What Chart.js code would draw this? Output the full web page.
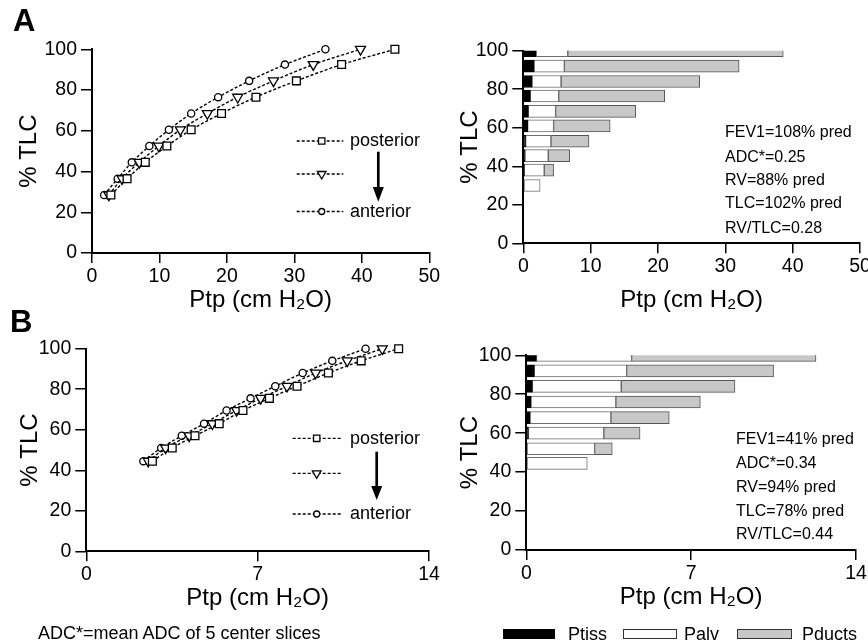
<!DOCTYPE html>
<html><head><meta charset="utf-8">
<script src="https://cdn.jsdelivr.net/npm/chart.js@4.4.0/dist/chart.umd.min.js"></script>
<style>
html,body{margin:0;padding:0;width:868px;height:644px;overflow:hidden;background:#fff;}
canvas{position:absolute;left:0;top:0;}
.t{position:absolute;white-space:nowrap;font-family:"Liberation Sans",Arial,Helvetica,sans-serif;color:#000;}
.box{position:absolute;box-sizing:border-box;}
</style></head><body>
<canvas id="cTL" width="900" height="644"></canvas>
<canvas id="cTR" width="900" height="644"></canvas>
<canvas id="cBL" width="900" height="644"></canvas>
<canvas id="cBR" width="900" height="644"></canvas>

<div class="t" style="left:13px;top:3px;font-size:31px;font-weight:bold;line-height:36px">A</div>
<div class="t" style="left:10px;top:304px;font-size:31px;font-weight:bold;line-height:36px">B</div>

<div class="t" style="left:350px;top:130px;font-size:18px;line-height:20px">posterior</div>
<div class="t" style="left:350px;top:201px;font-size:18px;line-height:20px">anterior</div>
<div class="t" style="left:350px;top:428px;font-size:18px;line-height:20px">posterior</div>
<div class="t" style="left:350px;top:503px;font-size:18px;line-height:20px">anterior</div>

<div class="t" style="left:725px;top:121.7px;font-size:16px;line-height:20px">FEV1=108% pred</div>
<div class="t" style="left:725px;top:146.7px;font-size:16px;line-height:20px">ADC*=0.25</div>
<div class="t" style="left:725px;top:170px;font-size:16px;line-height:20px">RV=88% pred</div>
<div class="t" style="left:725px;top:193.3px;font-size:16px;line-height:20px">TLC=102% pred</div>
<div class="t" style="left:725px;top:218.3px;font-size:16px;line-height:20px">RV/TLC=0.28</div>

<div class="t" style="left:736px;top:429.3px;font-size:16px;line-height:20px">FEV1=41% pred</div>
<div class="t" style="left:736px;top:453.3px;font-size:16px;line-height:20px">ADC*=0.34</div>
<div class="t" style="left:736px;top:476.7px;font-size:16px;line-height:20px">RV=94% pred</div>
<div class="t" style="left:736px;top:500.7px;font-size:16px;line-height:20px">TLC=78% pred</div>
<div class="t" style="left:736px;top:524px;font-size:16px;line-height:20px">RV/TLC=0.44</div>

<div class="t" style="left:38px;top:622.7px;font-size:18px;line-height:20px">ADC*=mean ADC of 5 center slices</div>

<div class="box" style="left:503px;top:629px;width:52px;height:10px;background:#000"></div>
<div class="t" style="left:568px;top:624px;font-size:18px;line-height:20px">Ptiss</div>
<div class="box" style="left:623px;top:629px;width:54px;height:10px;background:#fff;border:1px solid #333"></div>
<div class="t" style="left:684px;top:624px;font-size:18px;line-height:20px">Palv</div>
<div class="box" style="left:737px;top:629px;width:55px;height:10px;background:#c8c8c8;border:1px solid #333"></div>
<div class="t" style="left:802px;top:624px;font-size:18px;line-height:20px">Pducts</div>

<script>
// ---------- DATA ----------
// Panel A, left: %TLC levels and Ptp (cm H2O) per region
const tlcA = [28.5, 36.5, 44.5, 52.5, 60.5, 68.5, 76.5, 84.5, 92.5, 100];
const ptpPosteriorA = [2.8, 5.2, 7.9, 11.1, 14.7, 19.2, 24.3, 30.3, 37.0, 44.9];
const ptpMiddleA = [2.5, 4.45, 7.0, 9.9, 13.1, 17.1, 21.6, 26.9, 32.8, 39.8];
const ptpAnteriorA = [1.8, 3.8, 5.9, 8.5, 11.4, 14.7, 18.7, 23.3, 28.6, 34.6];

// Panel B, left
const tlcB = [44.5, 51, 57, 63, 69.5, 75.5, 81.5, 88, 94, 100];
const ptpPosteriorB = [2.7, 3.51, 4.44, 5.43, 6.4, 7.48, 8.61, 9.89, 11.23, 12.76];
const ptpMiddleB = [2.53, 3.24, 4.2, 5.15, 6.14, 7.12, 8.2, 9.37, 10.66, 12.09];
const ptpAnteriorB = [2.33, 3.06, 3.9, 4.81, 5.73, 6.71, 7.72, 8.84, 10.05, 11.41];

// Panel A, right: stacked components
const barTlcA = [30, 38, 45.5, 53, 61, 68.5, 76.5, 84, 92, 100];
const ptissA = [0, 0.15, 0.25, 0.35, 0.65, 0.75, 1.05, 1.3, 1.6, 1.9];
const palvA = [2.5, 2.95, 3.45, 3.75, 3.85, 4.05, 4.2, 4.3, 4.5, 4.7];
const pductsA = [0, 1.4, 3.2, 5.65, 8.4, 11.9, 15.75, 20.6, 25.95, 32.0];

// Panel B, right
const barTlcB = [44.5, 52, 60, 68, 76, 84, 92, 100];
const ptissB = [0, 0.03, 0.09, 0.16, 0.2, 0.26, 0.34, 0.43];
const palvB = [2.59, 2.87, 3.2, 3.43, 3.6, 3.77, 3.92, 4.04];
const pductsB = [0, 0.75, 1.54, 2.48, 3.59, 4.83, 6.24, 7.83];

const xTicksA = [0, 50, 10];
const xTicksB = [0, 14, 7];
const yTicks = [0, 100, 20];

// ---------- SETUP ----------
const FONT = '"Liberation Sans", Arial, Helvetica, sans-serif';
Chart.defaults.font.family = FONT;
Chart.defaults.color = '#000';
Chart.defaults.animation = false;

const CW = 900, CH = 644;
function frame(L, T, R, B, yTitleX, xTitleOff) {
  const lhT = 24 * 1.2;
  const padLeft = yTitleX - lhT / 2;
  const xBoxBottom = B + xTitleOff + lhT / 2;
  return {
    padding: {left: padLeft, top: T, right: CW - R, bottom: CH - xBoxBottom},
    yW: L - padLeft, xH: xBoxBottom - B
  };
}

function scales(fr, xt, stacked) {
  return {
    x: {
      type: 'linear', min: xt[0], max: xt[1], stacked: stacked,
      ticks: {stepSize: xt[2], color: '#000', font: {size: 19.5}, padding: 2, maxRotation: 0, autoSkip: false},
      grid: {drawOnChartArea: false, drawTicks: true, tickLength: 10, color: '#000', lineWidth: 1.5, offset: false},
      border: {display: true, color: '#000', width: 2},
      title: {display: true, text: 'Ptp (cm H\u2082O)', color: '#000', font: {size: 24}, padding: 0},
      afterFit: s => { s.height = fr.xH; }
    },
    y: {
      type: 'linear', min: yTicks[0], max: yTicks[1], stacked: stacked, offset: false,
      ticks: {stepSize: yTicks[2], color: '#000', font: {size: 19.5}, padding: 4, autoSkip: false},
      grid: {drawOnChartArea: false, drawTicks: true, tickLength: 11, color: '#000', lineWidth: 1.5, offset: false},
      border: {display: true, color: '#000', width: 2},
      title: {display: true, text: '% TLC', color: '#000', font: {size: 24}, padding: 0},
      afterFit: s => { s.width = fr.yW; }
    }
  };
}

function pts(xs, ys) { return xs.map((v, i) => ({x: v, y: ys[i]})); }

function lineDs(xs, ys, style, radius) {
  return {
    data: pts(xs, ys), borderColor: '#000', borderWidth: 1.4, borderDash: [3, 2],
    pointStyle: style, pointRadius: radius, pointRotation: style === 'triangle' ? 180 : 0,
    pointBackgroundColor: '#fff', pointBorderColor: '#000', pointBorderWidth: 1.3,
    cubicInterpolationMode: 'monotone', fill: false, clip: false
  };
}

function legendPlugin(cfg) {
  return {
    id: 'regionLegend',
    afterDraw(chart) {
      const ctx = chart.ctx;
      ctx.save();
      cfg.rows.forEach(r => {
        ctx.strokeStyle = '#000';
        ctx.lineWidth = 1.3;
        ctx.setLineDash([3, 2]);
        ctx.beginPath(); ctx.moveTo(cfg.x1, r.y); ctx.lineTo(cfg.x2, r.y); ctx.stroke();
        ctx.setLineDash([]);
        ctx.fillStyle = '#fff';
        ctx.strokeStyle = '#000';
        Chart.helpers.drawPoint(ctx, {pointStyle: r.style, radius: r.radius,
          rotation: r.style === 'triangle' ? 180 : 0, borderWidth: 1.3}, cfg.xm, r.y);
      });
      const a = cfg.arrow;
      ctx.strokeStyle = '#000'; ctx.fillStyle = '#000';
      ctx.lineWidth = 2.7;
      ctx.beginPath(); ctx.moveTo(a.x, a.y1); ctx.lineTo(a.x, a.yh + 1); ctx.stroke();
      ctx.beginPath(); ctx.moveTo(a.x - 5.5, a.yh); ctx.lineTo(a.x + 5.5, a.yh); ctx.lineTo(a.x, a.y2); ctx.closePath(); ctx.fill();
      ctx.restore();
    }
  };
}

function lineChart(id, fr, xt, tlc, post, mid, ant, leg) {
  new Chart(document.getElementById(id), {
    type: 'line',
    data: {datasets: [
      lineDs(post, tlc, 'rect', 5.5),
      lineDs(mid, tlc, 'triangle', 5.8),
      lineDs(ant, tlc, 'circle', 3.6)
    ]},
    options: {
      responsive: false, animation: false,
      layout: {padding: fr.padding},
      plugins: {legend: {display: false}, tooltip: {enabled: false}},
      scales: scales(fr, xt, false)
    },
    plugins: [legendPlugin(leg)]
  });
}

function barChart(id, fr, xt, tlc, tiss, alv, ducts) {
  const mk = (vals, bg, bc) => ({
    data: pts(vals, tlc), backgroundColor: bg, borderColor: bc, borderWidth: 1,
    borderSkipped: false, barThickness: 12, clip: {left: 4, top: 0, right: 10, bottom: 0}
  });
  new Chart(document.getElementById(id), {
    type: 'bar',
    data: {datasets: [
      mk(tiss, '#000', '#000'),
      mk(alv, '#fff', '#6e6e6e'),
      mk(ducts, '#c8c8c8', '#555')
    ]},
    options: {
      indexAxis: 'y', responsive: false, animation: false,
      layout: {padding: fr.padding},
      plugins: {legend: {display: false}, tooltip: {enabled: false}},
      scales: scales(fr, xt, true)
    }
  });
}

const frTL = frame(92, 49.3, 429.3, 253, 29, 47);
const frBL = frame(86.3, 348.7, 429, 551.3, 30, 47);
const frTR = frame(523.3, 50.7, 860, 243.3, 470, 57);
const frBR = frame(526.3, 355.3, 856, 550, 470.7, 47);

lineChart('cTL', frTL, xTicksA, tlcA, ptpPosteriorA, ptpMiddleA, ptpAnteriorA, {
  x1: 296.7, x2: 343.3, xm: 321.7,
  rows: [{y: 141, style: 'rect', radius: 4.5}, {y: 174, style: 'triangle', radius: 5}, {y: 211.5, style: 'circle', radius: 3}],
  arrow: {x: 378.3, y1: 151.7, yh: 187, y2: 201.7}
});
lineChart('cBL', frBL, xTicksB, tlcB, ptpPosteriorB, ptpMiddleB, ptpAnteriorB, {
  x1: 292.7, x2: 341.7, xm: 316.7,
  rows: [{y: 438.3, style: 'rect', radius: 4.5}, {y: 473.3, style: 'triangle', radius: 5}, {y: 514, style: 'circle', radius: 3}],
  arrow: {x: 376.7, y1: 451.7, yh: 486, y2: 500}
});
barChart('cTR', frTR, xTicksA, barTlcA, ptissA, palvA, pductsA);
barChart('cBR', frBR, xTicksB, barTlcB, ptissB, palvB, pductsB);
</script>
</body></html>
